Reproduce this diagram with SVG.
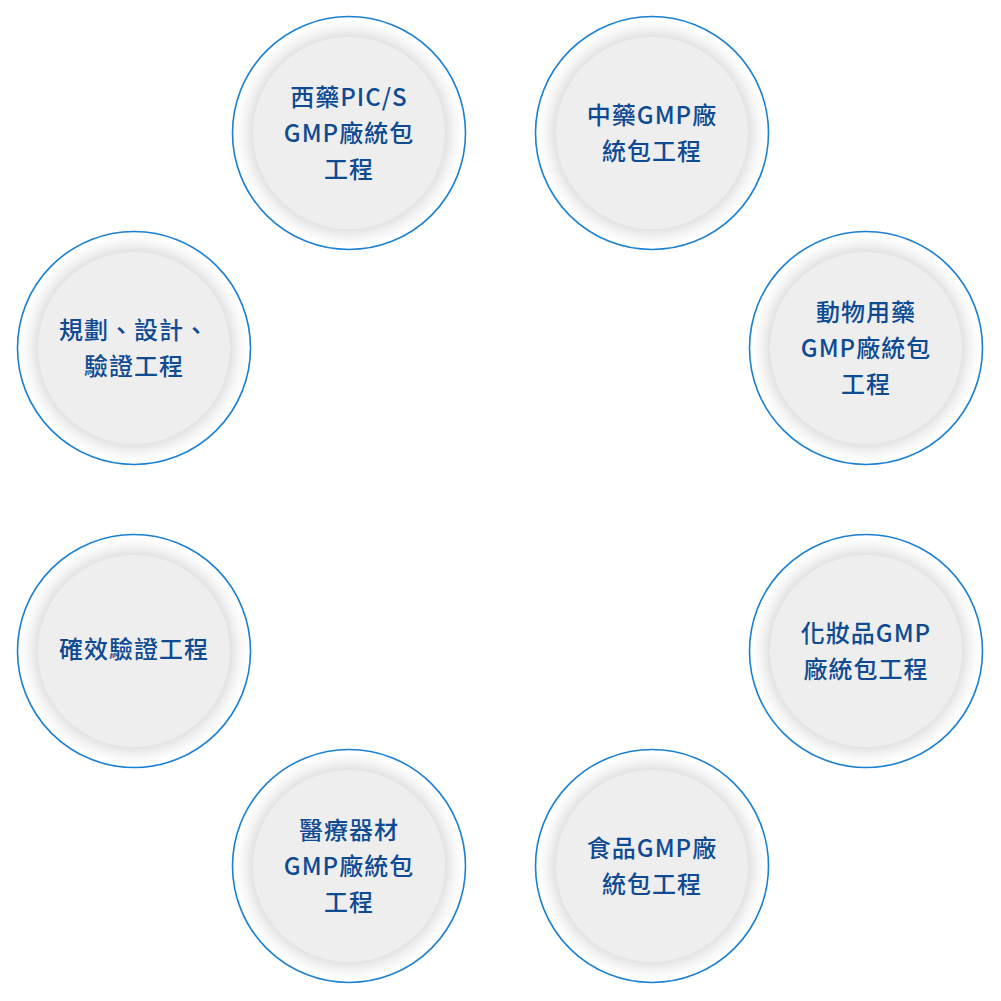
<svg xmlns="http://www.w3.org/2000/svg" width="1001" height="1001" viewBox="0 0 1001 1001">
<defs>
<radialGradient id="halo" cx="0.5" cy="0.5" r="0.5">
<stop offset="0" stop-color="#eeeeee"/>
<stop offset="0.80" stop-color="#e0e0e0"/>
<stop offset="0.84" stop-color="#e6e6e6"/>
<stop offset="0.90" stop-color="#f4f4f4"/>
<stop offset="0.97" stop-color="#ffffff"/>
<stop offset="1" stop-color="#ffffff"/>
</radialGradient>
</defs>
<style>
.ring{fill:url(#halo);stroke:#1c80d2;stroke-width:1.6}
.core{fill:#eeeeee}
.lbl{font-family:"Noto Sans CJK TC","Noto Sans CJK SC","Liberation Sans",sans-serif;font-size:24px;font-weight:500;letter-spacing:1px;fill:#0f4b92;text-anchor:middle}
</style>
<rect width="1001" height="1001" fill="#ffffff"/>
<g id="connectors"/>
<g id="node-western" transform="translate(349,133)">
<circle class="ring" r="116.5"/><circle class="core" r="96"/>
<text class="lbl" y="-27">西藥PIC/S</text>
<text class="lbl" y="9">GMP廠統包</text>
<text class="lbl" y="45">工程</text>
</g>
<g id="node-chinese" transform="translate(652,133)">
<circle class="ring" r="116.5"/><circle class="core" r="96"/>
<text class="lbl" y="-9">中藥GMP廠</text>
<text class="lbl" y="27">統包工程</text>
</g>
<g id="node-veterinary" transform="translate(866,348)">
<circle class="ring" r="116.5"/><circle class="core" r="96"/>
<text class="lbl" y="-27">動物用藥</text>
<text class="lbl" y="9">GMP廠統包</text>
<text class="lbl" y="45">工程</text>
</g>
<g id="node-cosmetics" transform="translate(866,651)">
<circle class="ring" r="116.5"/><circle class="core" r="96"/>
<text class="lbl" y="-9">化妝品GMP</text>
<text class="lbl" y="27">廠統包工程</text>
</g>
<g id="node-food" transform="translate(652,866)">
<circle class="ring" r="116.5"/><circle class="core" r="96"/>
<text class="lbl" y="-9">食品GMP廠</text>
<text class="lbl" y="27">統包工程</text>
</g>
<g id="node-medical" transform="translate(349,866)">
<circle class="ring" r="116.5"/><circle class="core" r="96"/>
<text class="lbl" y="-27">醫療器材</text>
<text class="lbl" y="9">GMP廠統包</text>
<text class="lbl" y="45">工程</text>
</g>
<g id="node-validation" transform="translate(134,651)">
<circle class="ring" r="116.5"/><circle class="core" r="96"/>
<text class="lbl" y="7">確效驗證工程</text>
</g>
<g id="node-planning" transform="translate(134,348)">
<circle class="ring" r="116.5"/><circle class="core" r="96"/>
<text class="lbl" y="-9">規劃、設計、</text>
<text class="lbl" y="27">驗證工程</text>
</g>
</svg>
